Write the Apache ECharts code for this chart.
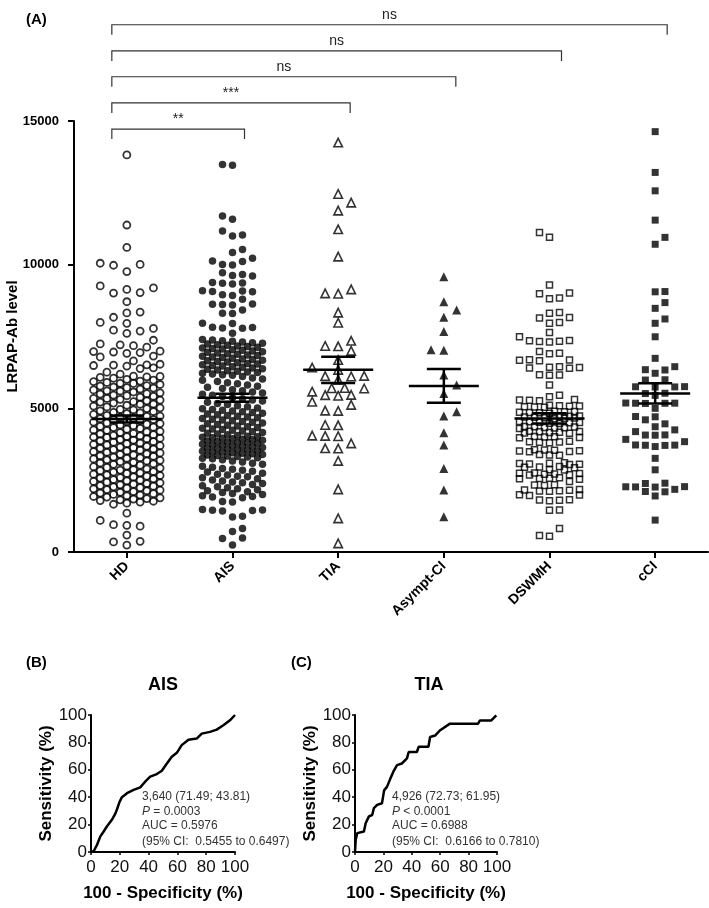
<!DOCTYPE html>
<html><head><meta charset="utf-8">
<script src="https://cdn.jsdelivr.net/npm/echarts/dist/echarts.min.js"></script>
<style>html,body{margin:0;padding:0;background:#fff}#c{width:709px;height:908px}</style>
</head><body><div id="c"></div><script>
const categories = ['HD','AIS','TIA','Asympt-CI','DSWMH','cCI'];

const hdValues = [13820, 11380, 10600, 10050, 10010, 9980, 9760, 9260, 9190, 9140, 9030, 9010, 8710, 8350, 8320, 8170, 7990, 7960, 7780, 7720, 7690, 7610, 7370, 7240, 7210, 7180, 7130, 6990, 6975, 6960, 6940, 6915, 6820, 6790, 6650, 6535, 6515, 6505, 6490, 6470, 6410, 6385,
6260, 6190, 6120, 6110, 6095, 6080, 6050, 6010,
5985, 5948, 5931, 5902, 5870, 5866, 5830, 5791, 5775, 5742, 5718, 5706, 5672, 5640, 5611, 5603, 5569, 5538, 5510, 5497, 5462, 5441, 5420, 5388, 5350, 5344, 5315, 5287, 5260, 5231, 5219, 5184, 5150, 5142, 5108, 5077, 5050, 5016,
4993, 4961, 4950, 4915, 4889, 4862, 4840, 4818, 4790, 4757, 4731, 4722, 4690, 4664, 4641, 4608, 4597, 4570, 4539, 4521, 4493, 4470, 4448, 4420, 4398, 4371, 4345, 4330, 4302, 4276, 4249, 4233, 4201, 4180, 4155, 4128, 4110, 4083, 4061, 4040, 4017, 4002,
3987, 3960, 3942, 3911, 3895, 3868, 3840, 3822, 3793, 3770, 3748, 3725, 3701, 3680, 3652, 3630, 3611, 3584, 3560, 3543, 3517, 3490, 3472, 3448, 3420, 3401, 3377, 3350, 3333, 3305, 3280, 3262, 3238, 3210, 3192, 3170, 3141, 3120, 3098, 3072, 3050, 3021,
2991, 2970, 2943, 2922, 2897, 2870, 2852, 2829, 2801, 2780, 2757, 2733, 2710, 2685, 2662, 2640, 2613, 2590, 2572, 2548, 2521, 2500, 2476, 2455, 2430, 2410, 2383, 2361, 2339, 2312, 2290, 2268, 2240, 2222, 2198, 2173, 2150, 2131, 2104, 2080,
2052, 2030, 2005, 1980, 1958, 1932, 1910, 1887, 1860, 1841, 1815, 1790, 1766, 1738, 1700, 1662,
1350, 1100, 950, 930, 900, 590, 370, 350, 240];

const aisValues = [13490, 13460, 11690, 11580, 11170, 11030, 11000, 10530, 10420, 10220, 10130, 10110, 10010, 9990, 9720, 9660, 9625, 9605, 9380, 9365, 9350, 9330, 9090, 9080, 9070, 9055, 8950, 8930, 8800, 8630, 8620, 8610, 8600, 8420, 8310, 8300, 7960, 7950, 7820, 7810, 7800, 7790, 7610,
7395, 7380, 7352, 7331, 7310, 7284, 7262, 7240, 7215, 7193, 7170, 7148, 7126, 7104, 7080, 7063, 7041, 7018, 6995, 6970, 6948, 6926, 6902, 6880, 6857, 6835, 6812, 6790, 6768, 6745, 6720, 6700, 6677, 6654, 6630, 6610, 6588, 6562, 6540, 6518, 6495, 6472, 6450, 6428, 6404, 6380, 6357, 6335, 6310, 6290, 6266, 6243, 6220, 6196, 6172, 6150,
6105, 6060, 6018, 5975, 5930, 5890, 5852, 5810, 5772, 5730, 5690, 5651, 5610, 5570, 5531, 5490, 5452, 5410, 5371, 5330, 5290, 5252, 5210, 5170, 5131, 5090, 5052, 5010, 4985, 4960,
4930, 4905, 4880, 4851, 4826, 4800, 4774, 4748, 4722, 4697, 4670, 4645, 4620, 4594, 4568, 4542, 4517, 4490, 4466, 4440, 4414, 4388, 4362, 4337, 4311, 4285, 4260, 4233, 4208, 4182, 4157, 4130, 4105, 4080, 4054, 4028, 4010, 3995,
3978, 3960, 3941, 3922, 3904, 3885, 3866, 3847, 3828, 3810, 3790, 3772, 3753, 3734, 3716, 3697, 3678, 3660, 3640, 3622, 3603, 3584, 3566, 3547, 3528, 3509, 3490, 3472, 3453, 3434, 3416, 3397, 3378, 3360, 3340, 3322, 3303, 3284, 3266, 3247, 3210, 3170, 3130, 3090, 3050,
2980, 2950, 2910, 2880, 2845, 2810, 2780, 2740, 2710, 2680, 2640, 2615, 2580, 2545, 2510, 2470, 2440, 2410, 2380, 2345, 2310, 2270, 2240, 2200, 2170, 2135, 2100, 2070, 2035, 2000,
1960, 1935, 1910, 1890, 1760, 1740, 1480, 1465, 1450, 1440, 1430, 1240, 1220,
820, 710, 490, 470, 240];

const tiaValues = [14250, 12460, 12160, 11880, 11230, 10280, 9140, 9000, 8990, 8330, 7980, 7350, 7170, 7160, 7000, 6680, 6420, 6340, 6130, 6120, 6110, 5990, 5700, 5690, 5710, 5580, 5460, 5440, 5470, 5230, 5120, 4920, 4910, 4420, 4410, 4040, 4030, 4050, 3780, 3610, 3600, 3170, 2180, 1170, 300];

const asymptValues = [9580, 8710, 8420, 8170, 7670, 7040, 7020, 6160, 5810, 5520, 4880, 4730, 4150, 3720, 2910, 2160, 1230];

const dswmhValues = [11120, 10950, 9290, 9010, 8985, 8840, 8815, 8335, 8310, 8165, 8140, 7985, 7960, 7640, 7490, 7365, 7350, 7338, 7322, 7310, 6975, 6915, 6900, 6690, 6682, 6670, 6655, 6445, 6432, 6420, 6405, 6395, 6172, 6160, 6148, 5810,
5455, 5400, 5305, 5292, 5280, 5266, 5104, 5092, 5081, 5070, 5058, 5046, 5035, 4902, 4890, 4878, 4866, 4855, 4842, 4830, 4735, 4722, 4711, 4700, 4688, 4676, 4664, 4652, 4640, 4542, 4530, 4518, 4506, 4494, 4482, 4470, 4372, 4360, 4348, 4336, 4324, 4312, 4300, 4205, 4193, 4181, 4169, 4157, 4145, 4133, 4022, 4010, 3998, 3986, 3974, 3852, 3840, 3828, 3816, 3804,
3562, 3550, 3538, 3526, 3514, 3502, 3490, 3392, 3380, 3368, 3102, 3090, 3078, 3066, 3054, 3042, 2972, 2960, 2948, 2936, 2862, 2850, 2752, 2740, 2728, 2716, 2704, 2692, 2680, 2582, 2570, 2558, 2546, 2534, 2450, 2342, 2330, 2318, 2172, 2160, 2148, 2136, 2124, 2112, 1992, 1980, 1968, 1822, 1810, 1798, 1786, 1465, 1450, 820, 570, 550];

const cciValues = [14630, 13210, 12570, 11550, 10950, 10710, 9065, 9055, 8680, 8480, 8110, 7960, 7490, 6740, 6450, 6345, 6335, 6220, 5995, 5985, 5755, 5750, 5745, 5740, 5525, 5515, 5450, 5185, 5180, 5178, 5175, 5170, 5000, 4715, 4705, 4600, 4460, 4360, 4250, 4190, 4075, 4070, 4065, 3920, 3840, 3725, 3720, 3715, 3710, 3670, 3260, 2860, 2395, 2385, 2275, 2270, 2265, 2260, 2180, 2105, 2095, 1950, 1110];

const groupMeans = [4630, 5370, 6340, 5780, 4650, 5520];
const groupSems = [120, 140, 455, 590, 180, 350];

const bracketEnds = [1, 2, 3, 4, 5];
const bracketLevels = [14720, 15630, 16540, 17440, 18350];
const bracketLabels = ['**', '***', 'ns', 'ns', 'ns'];

const rocAisX = [0, 1.8, 4.2, 6.5, 8.8, 11, 14.5, 16.9, 18, 19.9, 21.5, 25, 29.6, 34.2, 37.6, 41.1, 45.7, 49.2, 52.7, 56.1, 59.6, 63, 67.7, 73.4, 76.9, 82.7, 87.3, 91.9, 96.5, 100];
const rocAisY = [0, 0.5, 5.3, 11.4, 15, 18.6, 23.5, 28, 31, 36.8, 40, 42.9, 45.3, 47.2, 51.3, 55, 56.9, 59.3, 64.6, 69.5, 72.4, 78, 82, 82.8, 86.4, 87.7, 89.3, 92.5, 96.1, 100];
const rocTiaX = [0, 0.5, 0.5, 1.6, 2.8, 6.3, 7.5, 9.8, 12.1, 13.3, 15.6, 19, 20.5, 22.6, 25, 27, 29.6, 33, 36.6, 37.8, 43.6, 44.8, 51.7, 52.9, 56.4, 60, 66.9, 86.7, 87.9, 96, 99.5];
const rocTiaY = [0, 0.5, 9, 13.8, 15, 15, 21, 26, 27, 32, 34.4, 35.6, 45, 47.7, 53.8, 58.6, 63.4, 64.6, 68.3, 73, 73, 76.8, 76.8, 84, 85, 88.9, 93.7, 93.7, 96, 96, 99.8];

const FONT = '"Liberation Sans", Arial, sans-serif';
const groups = [hdValues, aisValues, tiaValues, asymptValues, dswmhValues, cciValues];
const swarmSpec = [
  {slot: 13.3, d: 9.5, k: 2.5},
  {slot: 10, d: 8, k: 3},
  {slot: 13, d: 9.5, k: 2},
  {slot: 12.8, d: 9.5, k: 1},
  {slot: 10, d: 8, k: 3},
  {slot: 9.8, d: 8, k: 3}
];
const markerStyle = [
  {symbol: 'circle', size: 7, item: {color: 'rgba(0,0,0,0)', borderColor: '#000', borderWidth: 1.8}},
  {symbol: 'circle', size: 7.5, item: {color: '#000'}},
  {symbol: 'triangle', size: 8.5, item: {color: 'rgba(0,0,0,0)', borderColor: '#000', borderWidth: 1.6}},
  {symbol: 'triangle', size: 9, item: {color: '#000'}},
  {symbol: 'rect', size: 6, item: {color: 'rgba(0,0,0,0)', borderColor: '#000', borderWidth: 1.5}},
  {symbol: 'rect', size: 7, item: {color: '#000'}}
];

const chart = echarts.init(document.getElementById('c'), null, {renderer: 'canvas'});

const rocAxis = (gi, isX) => ({
  type: 'value', gridIndex: gi, min: 0, max: 100, interval: 20,
  axisLine: {show: true, onZero: false, lineStyle: {color: '#000', width: 2}},
  axisTick: {show: true, length: 3, lineStyle: {color: '#000', width: 1.5}},
  axisLabel: {fontFamily: FONT, fontSize: 17, color: '#111', margin: isX ? 7 : 4},
  splitLine: {show: false},
  name: isX ? '100 - Specificity (%)' : 'Sensitivity (%)',
  nameLocation: 'middle', nameGap: isX ? 33 : 36,
  nameTextStyle: {fontFamily: FONT, fontSize: 17, fontWeight: 'bold', color: '#000'}
});

const baseOption = {
  animation: false,
  grid: [
    {left: 74, right: 1, top: 121, bottom: 356, containLabel: false, outerBoundsMode: 'none'},
    {left: 91, top: 715, width: 144, height: 137, containLabel: false, outerBoundsMode: 'none'},
    {left: 355, top: 715, width: 142, height: 137, containLabel: false, outerBoundsMode: 'none'}
  ],
  xAxis: [
    {type: 'category', gridIndex: 0, data: categories, boundaryGap: true,
     axisLine: {show: true, onZero: false, lineStyle: {color: '#000', width: 2}},
     axisTick: {show: true, alignWithLabel: true, length: 6, lineStyle: {color: '#000', width: 2}},
     axisLabel: {rotate: 45, fontFamily: FONT, fontSize: 14, fontWeight: 'bold', color: '#000', margin: 12}},
    {type: 'value', gridIndex: 0, min: -0.5, max: 5.5, show: false,
     axisLine: {show: false, onZero: false}, axisTick: {show: false}, axisLabel: {show: false}, splitLine: {show: false}},
    rocAxis(1, true),
    rocAxis(2, true)
  ],
  yAxis: [
    {type: 'value', gridIndex: 0, min: 0, max: 15000, interval: 5000,
     axisLine: {show: true, onZero: false, lineStyle: {color: '#000', width: 2}},
     axisTick: {show: true, length: 6, lineStyle: {color: '#000', width: 2}},
     axisLabel: {fontFamily: FONT, fontSize: 13, fontWeight: 'bold', color: '#000', margin: 15, formatter: v => String(v)},
     splitLine: {show: false},
     name: 'LRPAP-Ab level', nameLocation: 'middle', nameGap: 54, nameMoveOverlap: false,
     nameTextStyle: {fontFamily: FONT, fontSize: 15, fontWeight: 'bold', color: '#000'}},
    rocAxis(1, false),
    rocAxis(2, false)
  ],
  series: []
};
chart.setOption(baseOption);

const yPx = v => chart.convertToPixel({yAxisIndex: 0}, v);
const band = chart.convertToPixel({xAxisIndex: 1}, 1) - chart.convertToPixel({xAxisIndex: 1}, 0);

function swarm(values, gi) {
  const sp = swarmSpec[gi];
  const fulls = [0], halves = [];
  for (let j = 1; j <= Math.floor(sp.k); j++) fulls.push(j * sp.slot, -j * sp.slot);
  for (let j = 0.5; j <= sp.k + 1e-6; j += 1) halves.push(j * sp.slot, -j * sp.slot);
  const sorted = values.slice().sort((a, b) => a - b);
  const placed = [];
  sorted.forEach((v, n) => {
    const y = yPx(v);
    const flip = n % 2 ? -1 : 1;
    const order = fulls.concat(halves).map(c => c * flip);
    let best = 0, bestD = -1;
    for (const c of order) {
      let md = Infinity;
      for (const p of placed) {
        const dx = p.x - c, dy = p.y - y;
        const dd = Math.sqrt(dx * dx + dy * dy);
        if (dd < md) md = dd;
      }
      if (md >= sp.d) { best = c; break; }
      if (md > bestD) { bestD = md; best = c; }
    }
    placed.push({x: best, y: y, v: v});
  });
  return placed.map(p => [gi + p.x / band, p.v]);
}

const series = groups.map((vals, gi) => ({
  type: 'scatter', xAxisIndex: 1, yAxisIndex: 0, z: 2,
  symbol: markerStyle[gi].symbol, symbolSize: markerStyle[gi].size,
  itemStyle: markerStyle[gi].item,
  data: swarm(vals, gi), silent: true
}));

series.push({
  type: 'custom', xAxisIndex: 1, yAxisIndex: 0, z: 5, silent: true,
  data: categories.map((c, i) => [i, groupMeans[i], groupSems[i]]),
  renderItem: (params, api) => {
    const m = api.coord([api.value(0), api.value(1)]);
    const up = api.coord([api.value(0), api.value(1) + api.value(2)]);
    const dn = api.coord([api.value(0), api.value(1) - api.value(2)]);
    const st = {stroke: '#000', lineWidth: 2.5};
    return {type: 'group', children: [
      {type: 'line', shape: {x1: m[0] - 35, y1: m[1], x2: m[0] + 35, y2: m[1]}, style: st},
      {type: 'line', shape: {x1: m[0] - 17, y1: up[1], x2: m[0] + 17, y2: up[1]}, style: st},
      {type: 'line', shape: {x1: m[0] - 17, y1: dn[1], x2: m[0] + 17, y2: dn[1]}, style: st},
      {type: 'line', shape: {x1: m[0], y1: up[1], x2: m[0], y2: dn[1]}, style: st}
    ]};
  }
});

series.push({
  type: 'custom', xAxisIndex: 1, yAxisIndex: 0, z: 6, silent: true, clip: false,
  data: bracketEnds.map((e, i) => [0, e, bracketLevels[i], i]),
  renderItem: (params, api) => {
    const a = api.coord([api.value(0), api.value(2)]);
    const b = api.coord([api.value(1), api.value(2)]);
    const x1 = a[0] - 15, x2 = b[0] + 12, y = a[1];
    return {type: 'group', children: [
      {type: 'polyline', shape: {points: [[x1, y + 10], [x1, y], [x2, y], [x2, y + 10]]},
       style: {stroke: '#333', lineWidth: 1.2, fill: null}},
      {type: 'text', x: (x1 + x2) / 2, y: y - 3,
       style: {text: bracketLabels[api.value(3)], font: '14px ' + FONT, fill: '#222', align: 'center', verticalAlign: 'bottom'}}
    ]};
  }
});

series.push({
  type: 'line', xAxisIndex: 2, yAxisIndex: 1, showSymbol: false, silent: true,
  lineStyle: {color: '#000', width: 2.5},
  data: rocAisX.map((x, i) => [x, rocAisY[i]])
});
series.push({
  type: 'line', xAxisIndex: 3, yAxisIndex: 2, showSymbol: false, silent: true,
  lineStyle: {color: '#000', width: 2.5},
  data: rocTiaX.map((x, i) => [x, rocTiaY[i]])
});

const annoFont = '12px ' + FONT;
function annoLines(left, lines) {
  const tops = [791, 806, 820, 836];
  return lines.map((t, i) => ({
    type: 'text', left: left, top: tops[i],
    style: {text: t, font: annoFont, fill: '#333', rich: {i: {fontStyle: 'italic', font: 'italic 12px ' + FONT, fill: '#333'}}}
  }));
}

chart.setOption({
  series: series,
  graphic: [
    {type: 'text', left: 26, top: 12, style: {text: '(A)', font: 'bold 15px ' + FONT, fill: '#000'}},
    {type: 'text', left: 26, top: 655, style: {text: '(B)', font: 'bold 15px ' + FONT, fill: '#000'}},
    {type: 'text', left: 291, top: 655, style: {text: '(C)', font: 'bold 15px ' + FONT, fill: '#000'}},
    {type: 'text', x: 163, y: 685, style: {text: 'AIS', font: 'bold 18px ' + FONT, fill: '#000', align: 'center', verticalAlign: 'middle'}},
    {type: 'text', x: 429, y: 685, style: {text: 'TIA', font: 'bold 18px ' + FONT, fill: '#000', align: 'center', verticalAlign: 'middle'}}
  ].concat(annoLines(142, ['3,640 (71.49; 43.81)', '{i|P} = 0.0003', 'AUC = 0.5976', '(95% CI:  0.5455 to 0.6497)']))
   .concat(annoLines(392, ['4,926 (72.73; 61.95)', '{i|P} < 0.0001', 'AUC = 0.6988', '(95% CI:  0.6166 to 0.7810)']))
});
</script></body></html>
